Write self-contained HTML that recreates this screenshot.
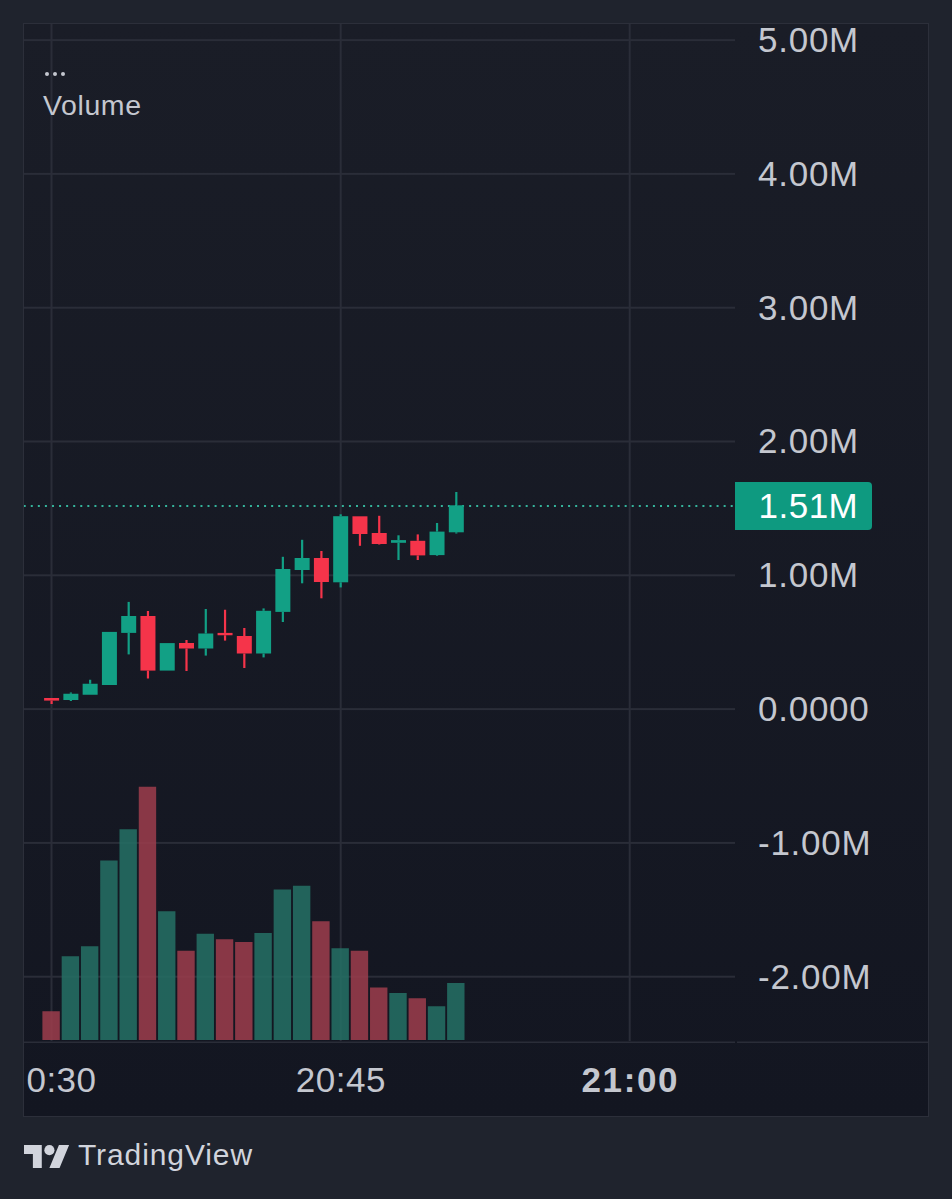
<!DOCTYPE html>
<html><head><meta charset="utf-8"><style>
html,body{margin:0;padding:0;}
body{width:952px;height:1199px;background:#1f232d;position:relative;overflow:hidden;font-family:"Liberation Sans",sans-serif;}
#panel{position:absolute;left:23px;top:23px;width:904px;height:1092px;border:1px solid #2c2f3a;background:linear-gradient(to bottom,#1a1d27,#131621);overflow:hidden;}
#chart{position:absolute;left:0;top:0;}
.pl{position:absolute;left:758px;height:40px;line-height:40px;font-size:35px;letter-spacing:0.75px;color:#c4c7cf;white-space:nowrap;}
.tl{position:absolute;top:1060px;height:40px;line-height:40px;font-size:35px;letter-spacing:0.5px;color:#c4c7cf;white-space:nowrap;text-align:center;width:200px;}
#last{position:absolute;left:735px;top:482px;width:137px;height:48px;background:#0e9a80;border-radius:0 4px 4px 0;}
#last span{position:absolute;left:23.5px;top:4px;line-height:40px;font-size:35px;letter-spacing:0.5px;color:#ffffff;}
#vol{position:absolute;left:43px;top:85px;font-size:28.5px;letter-spacing:0.6px;color:#c4c7cf;line-height:40px;}
.dot{position:absolute;width:4px;height:4px;border-radius:2px;background:#c4c7cf;top:72px;}
#tv{position:absolute;left:23px;top:1140px;}
#tvt{position:absolute;left:78px;top:1137px;font-size:30px;letter-spacing:0.9px;line-height:36px;color:#d1d4dc;}
</style></head><body>
<div id="panel"></div>
<svg id="chart" width="952" height="1199" viewBox="0 0 952 1199" style="position:absolute;left:0;top:0">
<defs><clipPath id="cp"><rect x="24" y="24" width="904" height="1092"/></clipPath></defs>
<g clip-path="url(#cp)">
<rect x="24" y="39.10" width="711" height="2" fill="#2a2d38"/>
<rect x="24" y="172.90" width="711" height="2" fill="#2a2d38"/>
<rect x="24" y="306.70" width="711" height="2" fill="#2a2d38"/>
<rect x="24" y="440.50" width="711" height="2" fill="#2a2d38"/>
<rect x="24" y="574.30" width="711" height="2" fill="#2a2d38"/>
<rect x="24" y="708.10" width="711" height="2" fill="#2a2d38"/>
<rect x="24" y="841.90" width="711" height="2" fill="#2a2d38"/>
<rect x="24" y="975.70" width="711" height="2" fill="#2a2d38"/>
<rect x="50.50" y="24" width="2" height="1017" fill="#2a2d38"/>
<rect x="339.70" y="24" width="2" height="1017" fill="#2a2d38"/>
<rect x="628.70" y="24" width="2" height="1017" fill="#2a2d38"/>
<rect x="42.40" y="1011.25" width="17.4" height="28.75" fill="rgba(158,61,76,0.85)"/>
<rect x="61.67" y="956.25" width="17.4" height="83.75" fill="rgba(36,113,101,0.85)"/>
<rect x="80.94" y="946.25" width="17.4" height="93.75" fill="rgba(36,113,101,0.85)"/>
<rect x="100.22" y="860.50" width="17.4" height="179.50" fill="rgba(36,113,101,0.85)"/>
<rect x="119.49" y="829.25" width="17.4" height="210.75" fill="rgba(36,113,101,0.85)"/>
<rect x="138.76" y="786.75" width="17.4" height="253.25" fill="rgba(158,61,76,0.85)"/>
<rect x="158.03" y="911.25" width="17.4" height="128.75" fill="rgba(36,113,101,0.85)"/>
<rect x="177.30" y="950.75" width="17.4" height="89.25" fill="rgba(158,61,76,0.85)"/>
<rect x="196.58" y="933.75" width="17.4" height="106.25" fill="rgba(36,113,101,0.85)"/>
<rect x="215.85" y="939.25" width="17.4" height="100.75" fill="rgba(158,61,76,0.85)"/>
<rect x="235.12" y="942.00" width="17.4" height="98.00" fill="rgba(158,61,76,0.85)"/>
<rect x="254.39" y="933.00" width="17.4" height="107.00" fill="rgba(36,113,101,0.85)"/>
<rect x="273.66" y="889.50" width="17.4" height="150.50" fill="rgba(36,113,101,0.85)"/>
<rect x="292.94" y="885.75" width="17.4" height="154.25" fill="rgba(36,113,101,0.85)"/>
<rect x="312.21" y="921.25" width="17.4" height="118.75" fill="rgba(158,61,76,0.85)"/>
<rect x="331.48" y="948.25" width="17.4" height="91.75" fill="rgba(36,113,101,0.85)"/>
<rect x="350.75" y="950.75" width="17.4" height="89.25" fill="rgba(158,61,76,0.85)"/>
<rect x="370.02" y="987.50" width="17.4" height="52.50" fill="rgba(158,61,76,0.85)"/>
<rect x="389.30" y="993.00" width="17.4" height="47.00" fill="rgba(36,113,101,0.85)"/>
<rect x="408.57" y="998.25" width="17.4" height="41.75" fill="rgba(158,61,76,0.85)"/>
<rect x="427.84" y="1006.25" width="17.4" height="33.75" fill="rgba(36,113,101,0.85)"/>
<rect x="447.11" y="983.00" width="17.4" height="57.00" fill="rgba(36,113,101,0.85)"/>
<line x1="24" y1="506" x2="734" y2="506" stroke="#35b39b" stroke-width="2" stroke-dasharray="2 5.07" stroke-dashoffset="0.3"/>
<rect x="50.50" y="700.60" width="2.2" height="3.40" fill="#f5344a"/>
<rect x="44.10" y="698.00" width="15" height="2.60" fill="#f5344a"/>
<rect x="69.77" y="692.50" width="2.2" height="1.25" fill="#12a085"/>
<rect x="69.77" y="700.00" width="2.2" height="1.00" fill="#12a085"/>
<rect x="63.37" y="693.75" width="15" height="6.25" fill="#12a085"/>
<rect x="89.04" y="679.75" width="2.2" height="4.00" fill="#12a085"/>
<rect x="82.64" y="683.75" width="15" height="11.00" fill="#12a085"/>
<rect x="101.92" y="631.90" width="15" height="53.10" fill="#12a085"/>
<rect x="127.59" y="601.90" width="2.2" height="14.10" fill="#12a085"/>
<rect x="127.59" y="632.90" width="2.2" height="21.50" fill="#12a085"/>
<rect x="121.19" y="616.00" width="15" height="16.90" fill="#12a085"/>
<rect x="146.86" y="611.00" width="2.2" height="5.00" fill="#f5344a"/>
<rect x="146.86" y="670.60" width="2.2" height="7.90" fill="#f5344a"/>
<rect x="140.46" y="616.00" width="15" height="54.60" fill="#f5344a"/>
<rect x="159.73" y="643.10" width="15" height="27.50" fill="#12a085"/>
<rect x="185.40" y="640.00" width="2.2" height="3.00" fill="#f5344a"/>
<rect x="185.40" y="648.50" width="2.2" height="22.50" fill="#f5344a"/>
<rect x="179.00" y="643.00" width="15" height="5.50" fill="#f5344a"/>
<rect x="204.68" y="609.00" width="2.2" height="24.50" fill="#12a085"/>
<rect x="204.68" y="648.50" width="2.2" height="7.10" fill="#12a085"/>
<rect x="198.28" y="633.50" width="15" height="15.00" fill="#12a085"/>
<rect x="223.95" y="609.75" width="2.2" height="23.15" fill="#f5344a"/>
<rect x="223.95" y="635.25" width="2.2" height="5.35" fill="#f5344a"/>
<rect x="217.55" y="632.90" width="15" height="2.35" fill="#f5344a"/>
<rect x="243.22" y="628.00" width="2.2" height="8.00" fill="#f5344a"/>
<rect x="243.22" y="653.50" width="2.2" height="14.50" fill="#f5344a"/>
<rect x="236.82" y="636.00" width="15" height="17.50" fill="#f5344a"/>
<rect x="262.49" y="608.40" width="2.2" height="2.40" fill="#12a085"/>
<rect x="262.49" y="653.50" width="2.2" height="3.90" fill="#12a085"/>
<rect x="256.09" y="610.80" width="15" height="42.70" fill="#12a085"/>
<rect x="281.76" y="556.80" width="2.2" height="12.20" fill="#12a085"/>
<rect x="281.76" y="611.90" width="2.2" height="10.10" fill="#12a085"/>
<rect x="275.36" y="569.00" width="15" height="42.90" fill="#12a085"/>
<rect x="301.04" y="539.80" width="2.2" height="18.20" fill="#12a085"/>
<rect x="301.04" y="570.00" width="2.2" height="13.30" fill="#12a085"/>
<rect x="294.64" y="558.00" width="15" height="12.00" fill="#12a085"/>
<rect x="320.31" y="551.00" width="2.2" height="7.00" fill="#f5344a"/>
<rect x="320.31" y="582.00" width="2.2" height="16.30" fill="#f5344a"/>
<rect x="313.91" y="558.00" width="15" height="24.00" fill="#f5344a"/>
<rect x="339.58" y="514.30" width="2.2" height="1.90" fill="#12a085"/>
<rect x="339.58" y="582.30" width="2.2" height="5.10" fill="#12a085"/>
<rect x="333.18" y="516.20" width="15" height="66.10" fill="#12a085"/>
<rect x="358.85" y="534.00" width="2.2" height="11.80" fill="#f5344a"/>
<rect x="352.45" y="516.30" width="15" height="17.70" fill="#f5344a"/>
<rect x="378.12" y="515.80" width="2.2" height="17.20" fill="#f5344a"/>
<rect x="378.12" y="544.00" width="2.2" height="0.50" fill="#f5344a"/>
<rect x="371.72" y="533.00" width="15" height="11.00" fill="#f5344a"/>
<rect x="397.40" y="535.30" width="2.2" height="4.80" fill="#12a085"/>
<rect x="397.40" y="542.80" width="2.2" height="17.20" fill="#12a085"/>
<rect x="391.00" y="540.10" width="15" height="2.70" fill="#12a085"/>
<rect x="416.67" y="534.40" width="2.2" height="6.40" fill="#f5344a"/>
<rect x="416.67" y="555.40" width="2.2" height="4.60" fill="#f5344a"/>
<rect x="410.27" y="540.80" width="15" height="14.60" fill="#f5344a"/>
<rect x="435.94" y="523.00" width="2.2" height="8.60" fill="#12a085"/>
<rect x="435.94" y="555.10" width="2.2" height="0.70" fill="#12a085"/>
<rect x="429.54" y="531.60" width="15" height="23.50" fill="#12a085"/>
<rect x="455.21" y="492.00" width="2.2" height="13.30" fill="#12a085"/>
<rect x="455.21" y="532.30" width="2.2" height="1.20" fill="#12a085"/>
<rect x="448.81" y="505.30" width="15" height="27.00" fill="#12a085"/>
<rect x="24" y="1041.5" width="711" height="1.5" fill="#2a2d38"/>
<rect x="737" y="1041.5" width="191" height="1.5" fill="#2a2d38"/>
</g>
</svg>
<div class="dot" style="left:44.5px"></div><div class="dot" style="left:52.5px"></div><div class="dot" style="left:61px"></div>
<div id="vol">Volume</div>
<div class="pl" style="top:19.9px">5.00M</div>
<div class="pl" style="top:153.7px">4.00M</div>
<div class="pl" style="top:287.5px">3.00M</div>
<div class="pl" style="top:421.4px">2.00M</div>
<div class="pl" style="top:555.2px">1.00M</div>
<div class="pl" style="top:689.0px">0.0000</div>
<div class="pl" style="top:822.8px">-1.00M</div>
<div class="pl" style="top:956.6px">-2.00M</div>
<div id="last"><span>1.51M</span></div>
<div style="position:absolute;left:26px;top:1043px;width:709px;height:73px;overflow:hidden">
<div class="tl" style="left:-74.5px;top:17px">20:30</div>
<div class="tl" style="left:214.89999999999998px;top:17px">20:45</div>
<div class="tl" style="left:504.3px;top:17px;font-weight:bold;letter-spacing:1.6px">21:00</div>
</div>
<svg id="tv" width="45.72" height="28.58" viewBox="0 0 36 22.5" style="position:absolute;left:23.75px;top:1139.9px">
<path fill="#d1d4dc" d="M14 22H7V11H0V4h14v18zM28 22h-8l7.5-18h8L28 22z"/><circle fill="#d1d4dc" cx="20" cy="8" r="4"/>
</svg>
<div id="tvt">TradingView</div>
</body></html>
